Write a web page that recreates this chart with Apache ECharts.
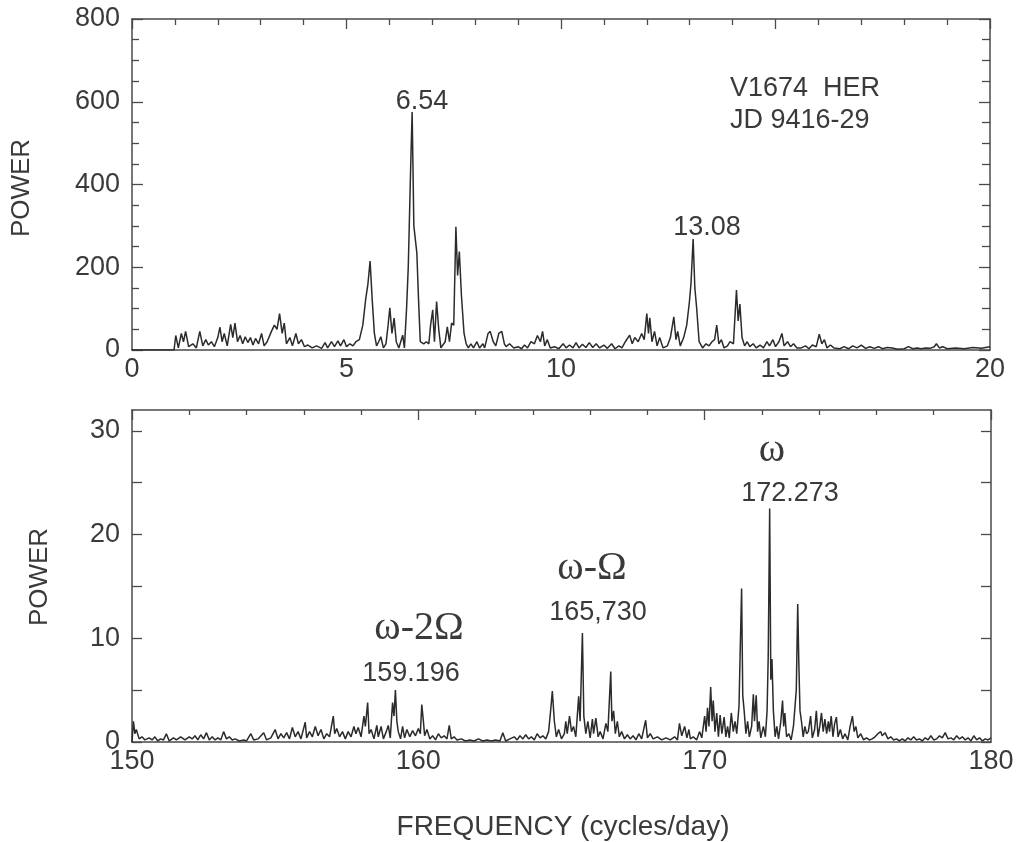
<!DOCTYPE html>
<html>
<head>
<meta charset="utf-8">
<script src="https://cdn.jsdelivr.net/npm/echarts@6/dist/echarts.min.js"></script>
<style>
html,body{margin:0;padding:0;background:#fff;}
#c{width:1017px;height:842px;}
</style>
</head>
<body>
<div id="c"></div>
<script>
// ---- data (frequency [cycles/day], power) ----
const topXTicks = [0, 5, 10, 15, 20];
const topYTicks = [0, 200, 400, 600, 800];
const botXTicks = [150, 160, 170, 180];
const botYTicks = [0, 10, 20, 30];
const botYAllTicks = [0, 5, 10, 15, 20, 25, 30];
const botYMax = 32;

const topSpectrum = [
[0,0],[0.98,0],[1.02,35],[1.08,5],[1.15,40],[1.2,20],[1.25,45],[1.32,8],[1.42,15],[1.5,5],
[1.58,45],[1.65,10],[1.72,25],[1.78,12],[1.85,20],[1.92,8],[2.0,30],[2.05,55],[2.1,20],[2.15,40],
[2.22,10],[2.3,62],[2.35,30],[2.4,65],[2.46,20],[2.52,35],[2.58,15],[2.64,32],[2.7,18],[2.76,30],
[2.82,12],[2.88,28],[2.95,15],[3.02,40],[3.08,10],[3.15,20],[3.25,45],[3.32,60],[3.38,50],[3.44,88],
[3.5,40],[3.55,65],[3.6,15],[3.68,30],[3.74,10],[3.82,40],[3.88,15],[3.95,25],[4.02,8],[4.1,12],
[4.2,5],[4.3,10],[4.42,4],[4.5,18],[4.56,5],[4.65,20],[4.72,8],[4.8,22],[4.86,10],[4.94,25],
[5.0,8],[5.08,15],[5.15,10],[5.22,20],[5.3,25],[5.38,60],[5.45,125],[5.5,160],[5.55,215],[5.6,120],
[5.65,40],[5.7,10],[5.75,20],[5.8,32],[5.86,5],[5.92,15],[5.97,60],[6.01,102],[6.06,40],[6.11,77],
[6.16,20],[6.22,5],[6.31,36],[6.35,5],[6.4,100],[6.44,201],[6.5,460],[6.53,575],[6.57,300],[6.64,234],
[6.68,120],[6.72,20],[6.8,15],[6.86,20],[6.92,15],[6.96,60],[7.01,97],[7.05,20],[7.1,117],[7.15,50],
[7.2,5],[7.3,20],[7.35,56],[7.4,20],[7.45,65],[7.5,60],[7.55,298],[7.59,180],[7.63,238],[7.68,130],
[7.74,40],[7.79,15],[7.84,5],[7.9,15],[7.96,5],[8.04,20],[8.1,5],[8.18,15],[8.22,5],[8.3,40],
[8.35,45],[8.42,20],[8.48,10],[8.55,40],[8.62,45],[8.68,15],[8.72,8],[8.8,15],[8.9,5],[9.0,8],
[9.08,3],[9.15,12],[9.22,5],[9.3,20],[9.38,15],[9.45,35],[9.52,20],[9.57,45],[9.62,10],[9.68,25],
[9.75,5],[9.85,8],[9.95,3],[10.05,15],[10.12,5],[10.2,12],[10.28,5],[10.35,18],[10.42,5],[10.5,14],
[10.58,6],[10.66,18],[10.74,6],[10.82,15],[10.9,5],[11.0,12],[11.08,4],[11.18,15],[11.26,3],[11.35,10],
[11.42,5],[11.5,20],[11.6,36],[11.66,15],[11.72,30],[11.8,20],[11.88,40],[11.94,25],[12.0,88],[12.04,40],
[12.07,78],[12.12,20],[12.18,45],[12.24,10],[12.3,30],[12.38,5],[12.48,10],[12.55,30],[12.63,80],[12.68,25],
[12.72,45],[12.78,10],[12.86,30],[12.93,60],[12.99,113],[13.03,160],[13.08,268],[13.12,150],[13.16,104],[13.22,20],
[13.3,5],[13.38,15],[13.45,10],[13.52,20],[13.58,25],[13.63,60],[13.68,15],[13.74,25],[13.8,5],[13.88,10],
[13.94,20],[14.02,15],[14.09,145],[14.13,70],[14.17,111],[14.22,30],[14.28,10],[14.34,20],[14.4,8],[14.48,15],
[14.55,5],[14.64,12],[14.72,5],[14.8,20],[14.86,10],[14.94,25],[15.0,8],[15.08,20],[15.15,40],[15.2,10],
[15.28,20],[15.35,8],[15.42,15],[15.5,5],[15.6,5],[15.7,10],[15.78,3],[15.86,12],[15.95,8],[16.02,38],
[16.08,15],[16.14,25],[16.2,5],[16.28,12],[16.36,5],[16.5,3],[16.6,8],[16.7,3],[16.8,10],[16.9,5],
[17.0,12],[17.1,4],[17.2,8],[17.3,4],[17.4,8],[17.5,3],[17.6,6],[17.72,5],[17.85,2],[18.0,3],
[18.1,8],[18.2,3],[18.3,5],[18.4,3],[18.5,5],[18.6,4],[18.7,8],[18.75,15],[18.82,5],[18.9,8],
[19.0,3],[19.2,5],[19.4,3],[19.6,6],[19.8,4],[20.0,8]
];

const bottomSpectrum = [
[150.0,0],[150.05,2.0],[150.1,0.8],[150.15,1.2],[150.25,0.3],[150.35,0.5],[150.45,0.2],[150.6,0.4],[150.7,0.2],[150.8,0.5],
[150.9,0.1],[151.0,0.3],[151.1,0.2],[151.2,0.8],[151.3,0.1],[151.45,0.4],[151.55,0.2],[151.7,0.5],[151.85,0.2],[152.0,0.5],
[152.1,0.3],[152.2,0.6],[152.3,0.2],[152.4,0.7],[152.5,0.3],[152.6,0.9],[152.7,0.2],[152.8,0.5],[152.9,0.2],[153.0,0.4],
[153.1,0.2],[153.2,1.0],[153.3,0.3],[153.4,0.5],[153.5,0.2],[153.6,0.3],[153.75,0.1],[153.9,0.2],[154.0,0.1],[154.15,0.8],
[154.25,0.2],[154.4,0.3],[154.6,0.9],[154.7,0.2],[154.85,0.4],[155.0,1.2],[155.1,0.3],[155.2,0.8],[155.3,0.4],[155.4,0.9],
[155.5,0.3],[155.6,1.4],[155.7,0.5],[155.8,1.0],[155.9,0.3],[156.05,1.9],[156.1,0.4],[156.2,1.0],[156.3,0.5],[156.4,1.5],
[156.5,0.6],[156.6,1.2],[156.7,0.3],[156.8,0.8],[156.9,0.5],[157.03,2.5],[157.08,0.8],[157.15,1.3],[157.25,0.5],[157.35,1.0],
[157.45,0.3],[157.55,1.0],[157.65,0.5],[157.75,1.5],[157.82,0.8],[157.9,1.4],[158.0,0.5],[158.1,2.5],[158.15,1.5],[158.23,3.8],
[158.28,0.8],[158.35,1.2],[158.45,0.3],[158.55,1.6],[158.6,0.5],[158.7,1.5],[158.78,0.3],[158.88,1.0],[158.95,1.6],[159.02,0.4],
[159.1,3.8],[159.15,2.5],[159.2,5.0],[159.25,2.0],[159.3,1.0],[159.38,0.3],[159.45,1.5],[159.52,0.4],[159.6,1.2],[159.7,0.5],
[159.8,1.1],[159.9,0.6],[160.0,1.3],[160.07,0.8],[160.12,3.6],[160.17,2.2],[160.22,0.6],[160.3,1.2],[160.4,0.3],[160.5,0.6],
[160.6,0.2],[160.7,0.8],[160.8,0.4],[160.9,0.6],[161.0,0.3],[161.08,1.6],[161.15,0.3],[161.25,0.5],[161.35,0.2],[161.5,0.3],
[161.65,0.1],[161.8,0.2],[161.95,0.1],[162.1,0.3],[162.25,0.1],[162.4,0.2],[162.55,0.1],[162.7,0.2],[162.85,0.1],[162.95,0.9],
[163.05,0.1],[163.2,0.3],[163.35,0.5],[163.45,0.2],[163.55,0.6],[163.65,0.3],[163.75,0.7],[163.85,0.3],[163.95,0.5],[164.05,0.2],
[164.15,0.8],[164.25,0.4],[164.35,0.6],[164.45,0.3],[164.55,1.0],[164.62,3.0],[164.68,4.9],[164.75,2.0],[164.82,0.5],[164.9,1.2],
[165.0,0.3],[165.1,0.8],[165.15,2.0],[165.2,0.8],[165.28,2.5],[165.35,1.0],[165.42,1.5],[165.5,0.5],[165.6,4.4],[165.65,2.0],
[165.73,10.5],[165.78,2.5],[165.85,0.8],[165.92,2.0],[166.0,0.4],[166.08,2.2],[166.12,0.8],[166.2,2.3],[166.28,0.5],[166.35,1.0],
[166.45,0.3],[166.55,1.8],[166.62,1.0],[166.72,6.8],[166.76,2.0],[166.82,3.0],[166.88,0.8],[166.95,2.0],[167.02,0.5],[167.1,1.0],
[167.2,0.3],[167.3,0.7],[167.4,0.3],[167.5,0.6],[167.6,0.2],[167.7,0.8],[167.8,0.3],[167.94,2.1],[168.0,0.4],[168.1,0.8],
[168.2,0.3],[168.35,0.5],[168.5,0.2],[168.65,0.4],[168.8,0.2],[168.95,0.5],[169.05,0.2],[169.12,1.8],[169.2,0.6],[169.3,1.5],
[169.38,0.4],[169.45,1.2],[169.5,0.3],[169.6,0.5],[169.72,0.2],[169.82,1.0],[169.9,0.4],[170.0,2.5],[170.05,1.0],[170.1,3.3],
[170.15,1.5],[170.21,5.3],[170.26,2.0],[170.3,4.0],[170.36,1.0],[170.42,2.8],[170.48,0.5],[170.54,2.6],[170.6,0.8],[170.68,2.4],
[170.74,0.5],[170.8,1.5],[170.86,0.4],[170.93,2.8],[171.0,1.0],[171.06,2.0],[171.12,0.8],[171.2,3.5],[171.24,8.7],[171.29,14.8],
[171.33,4.5],[171.38,3.0],[171.44,0.8],[171.5,2.0],[171.56,0.5],[171.64,1.5],[171.7,4.6],[171.74,2.0],[171.8,4.5],[171.85,1.0],
[171.9,2.0],[171.96,0.4],[172.05,1.5],[172.12,0.5],[172.18,3.0],[172.22,8.3],[172.27,22.5],[172.31,6.0],[172.35,8.0],[172.4,3.0],
[172.46,0.5],[172.52,1.5],[172.58,0.3],[172.66,2.0],[172.72,4.0],[172.76,1.5],[172.8,2.8],[172.86,0.5],[172.94,0.8],[173.02,0.2],
[173.1,1.5],[173.16,3.6],[173.2,5.0],[173.25,13.3],[173.29,7.4],[173.33,3.0],[173.38,2.0],[173.44,0.5],[173.5,1.5],[173.56,0.8],
[173.62,1.0],[173.7,2.5],[173.76,0.4],[173.84,1.2],[173.9,3.0],[173.96,0.5],[174.02,1.5],[174.08,2.8],[174.14,1.0],[174.2,2.2],
[174.26,0.8],[174.32,2.0],[174.36,1.0],[174.42,2.5],[174.48,0.5],[174.54,1.8],[174.6,2.4],[174.66,0.5],[174.74,1.2],[174.82,0.3],
[174.9,0.8],[175.0,0.2],[175.08,1.5],[175.16,2.5],[175.22,1.0],[175.28,1.5],[175.35,0.4],[175.45,0.8],[175.55,0.2],[175.65,0.4],
[175.75,0.2],[175.85,0.3],[175.95,0.5],[176.05,0.8],[176.15,1.0],[176.2,0.6],[176.3,0.9],[176.4,0.3],[176.5,0.5],[176.6,0.2],
[176.7,0.3],[176.8,0.1],[176.9,0.3],[177.0,0.1],[177.1,0.4],[177.2,0.2],[177.3,0.5],[177.4,0.2],[177.5,0.3],[177.6,0.1],
[177.7,0.4],[177.8,0.2],[177.9,0.6],[178.0,0.2],[178.1,0.3],[178.2,0.6],[178.3,0.4],[178.4,0.9],[178.5,0.3],[178.6,0.4],
[178.7,0.2],[178.8,0.6],[178.9,0.3],[179.0,0.5],[179.1,0.2],[179.2,0.4],[179.3,0.1],[179.4,0.6],[179.5,0.2],[179.6,0.4],
[179.7,0.1],[179.8,0.3],[179.9,0.2],[180.0,0.4]
];

// ---- styles ----
const FRAME = '#4a4a4a';
const INK = '#3a3a3a';
const SANS = '"Liberation Sans", Arial, Helvetica, sans-serif';
const SERIF = '"Liberation Serif", "DejaVu Serif", serif';
const lbl = {color: INK, fontFamily: SANS, fontSize: 27};
const frameLine = {show: true, onZero: false, lineStyle: {color: FRAME, width: 1.5}};
const tickStyle = {color: FRAME, width: 1.3};

function step(a){ return a[1] - a[0]; }

const chart = echarts.init(document.getElementById('c'), null, {renderer: 'canvas'});
chart.setOption({
  backgroundColor: '#ffffff',
  animation: false,
  grid: [
    {left: 132, top: 19, width: 858, height: 331},
    {left: 132, top: 410, width: 859, height: 332}
  ],
  xAxis: [
    {gridIndex: 0, type: 'value', position: 'bottom', min: topXTicks[0], max: topXTicks[topXTicks.length-1], interval: step(topXTicks),
     axisLine: frameLine, axisTick: {show: false}, splitLine: {show: false},
     axisLabel: Object.assign({margin: 6}, lbl)},
    {gridIndex: 0, type: 'value', position: 'top', min: topXTicks[0], max: topXTicks[topXTicks.length-1], interval: step(topXTicks),
     axisLine: frameLine, axisTick: {show: true, inside: true, length: 10, lineStyle: tickStyle},
     minorTick: {show: true, splitNumber: 5, length: 6, lineStyle: tickStyle},
     splitLine: {show: false}, axisLabel: {show: false}},
    {gridIndex: 1, type: 'value', position: 'bottom', min: botXTicks[0], max: botXTicks[botXTicks.length-1], interval: step(botXTicks),
     axisLine: frameLine, axisTick: {show: false}, splitLine: {show: false},
     axisLabel: Object.assign({margin: 6}, lbl)},
    {gridIndex: 1, type: 'value', position: 'top', min: botXTicks[0], max: botXTicks[botXTicks.length-1], interval: step(botXTicks),
     axisLine: frameLine, axisTick: {show: true, inside: true, length: 10, lineStyle: tickStyle},
     minorTick: {show: true, splitNumber: 5, length: 5, lineStyle: tickStyle},
     splitLine: {show: false}, axisLabel: {show: false}}
  ],
  yAxis: [
    {gridIndex: 0, type: 'value', position: 'left', min: topYTicks[0], max: topYTicks[topYTicks.length-1], interval: step(topYTicks),
     axisLine: frameLine, axisTick: {show: true, inside: true, length: 11, lineStyle: tickStyle},
     minorTick: {show: true, splitNumber: 4, length: 7, lineStyle: tickStyle},
     splitLine: {show: false}, axisLabel: Object.assign({margin: 12}, lbl)},
    {gridIndex: 0, type: 'value', position: 'right', min: topYTicks[0], max: topYTicks[topYTicks.length-1], interval: step(topYTicks),
     axisLine: frameLine, axisTick: {show: true, inside: true, length: 11, lineStyle: tickStyle},
     minorTick: {show: true, splitNumber: 4, length: 8, lineStyle: tickStyle},
     splitLine: {show: false}, axisLabel: {show: false}},
    {gridIndex: 1, type: 'value', position: 'left', min: 0, max: botYMax,
     axisLine: frameLine,
     axisTick: {show: true, inside: true, length: 10, lineStyle: tickStyle, customValues: botYAllTicks},
     splitLine: {show: false},
     axisLabel: Object.assign({margin: 12, customValues: botYTicks}, lbl)},
    {gridIndex: 1, type: 'value', position: 'right', min: 0, max: botYMax,
     axisLine: frameLine,
     axisTick: {show: true, inside: true, length: 10, lineStyle: tickStyle, customValues: botYAllTicks},
     splitLine: {show: false}, axisLabel: {show: false}}
  ],
  series: [
    {type: 'line', xAxisIndex: 0, yAxisIndex: 0, data: topSpectrum, showSymbol: false, symbol: 'none',
     lineStyle: {color: '#2b2b2b', width: 1.5}, clip: true, silent: true},
    {type: 'line', xAxisIndex: 2, yAxisIndex: 2, data: bottomSpectrum, showSymbol: false, symbol: 'none',
     lineStyle: {color: '#2b2b2b', width: 1.5}, clip: true, silent: true}
  ],
  graphic: [
    {type: 'text', x: 22, y: 188, rotation: Math.PI / 2,
     style: {text: 'POWER', font: '26px ' + SANS, fill: INK, align: 'center', verticalAlign: 'middle'}},
    {type: 'text', x: 40, y: 577, rotation: Math.PI / 2,
     style: {text: 'POWER', font: '26px ' + SANS, fill: INK, align: 'center', verticalAlign: 'middle'}},
    {type: 'text', x: 563, y: 827,
     style: {text: 'FREQUENCY (cycles/day)', font: '28px ' + SANS, fill: INK, align: 'center', verticalAlign: 'middle'}},
    {type: 'text', x: 422, y: 102,
     style: {text: '6.54', font: '27px ' + SANS, fill: INK, align: 'center', verticalAlign: 'middle'}},
    {type: 'text', x: 730, y: 89,
     style: {text: 'V1674  HER', font: '27px ' + SANS, fill: INK, align: 'left', verticalAlign: 'middle'}},
    {type: 'text', x: 730, y: 121,
     style: {text: 'JD 9416-29', font: '27px ' + SANS, fill: INK, align: 'left', verticalAlign: 'middle'}},
    {type: 'text', x: 707, y: 228,
     style: {text: '13.08', font: '27px ' + SANS, fill: INK, align: 'center', verticalAlign: 'middle'}},
    {type: 'text', x: 419, y: 628,
     style: {text: 'ω-2Ω', font: '40px ' + SERIF, fill: INK, align: 'center', verticalAlign: 'middle'}},
    {type: 'text', x: 411, y: 674,
     style: {text: '159.196', font: '27px ' + SANS, fill: INK, align: 'center', verticalAlign: 'middle'}},
    {type: 'text', x: 592, y: 568,
     style: {text: 'ω-Ω', font: '40px ' + SERIF, fill: INK, align: 'center', verticalAlign: 'middle'}},
    {type: 'text', x: 598, y: 613,
     style: {text: '165,730', font: '27px ' + SANS, fill: INK, align: 'center', verticalAlign: 'middle'}},
    {type: 'text', x: 772, y: 450,
     style: {text: 'ω', font: '40px ' + SERIF, fill: INK, align: 'center', verticalAlign: 'middle'}},
    {type: 'text', x: 790, y: 494,
     style: {text: '172.273', font: '27px ' + SANS, fill: INK, align: 'center', verticalAlign: 'middle'}}
  ]
});
</script>
</body>
</html>
